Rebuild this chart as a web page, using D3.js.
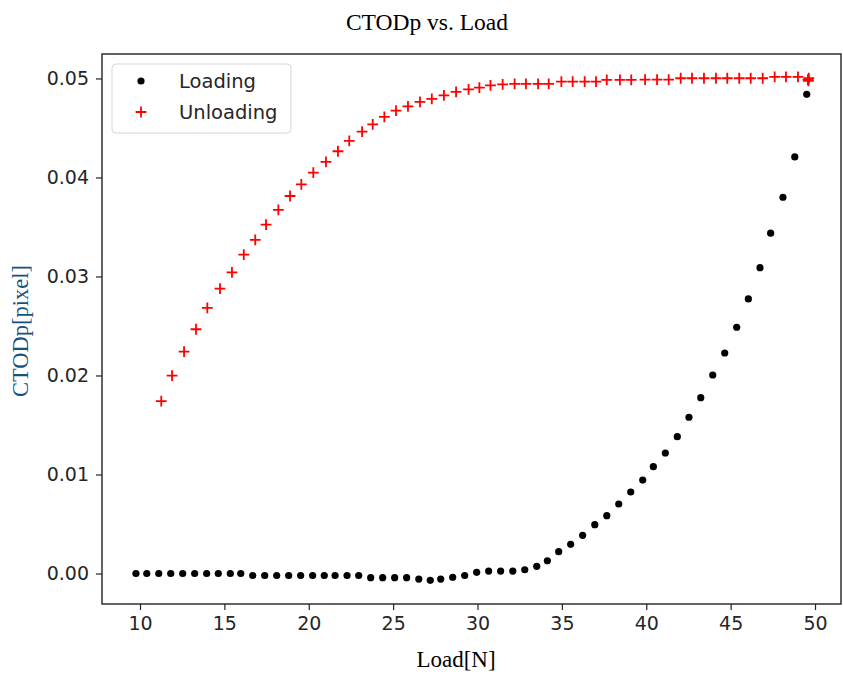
<!DOCTYPE html>
<html>
<head>
<meta charset="utf-8">
<script src="https://cdn.jsdelivr.net/npm/d3@7/dist/d3.min.js"></script>
<style>
  html, body { margin: 0; padding: 0; background: #fff; }
  svg { display: block; }
</style>
</head>
<body>
<svg id="chart" width="843" height="675"></svg>
<script>
// ---- Data ----
const loadingLoad = [9.76,10.40,11.11,11.82,12.53,13.24,13.95,14.64,15.35,15.97,
  16.68,17.39,18.10,18.81,19.52,20.23,20.92,21.56,22.27,22.96,
  23.67,24.38,25.09,25.80,26.52,27.20,27.82,28.53,29.24,29.95,
  30.66,31.37,32.09,32.80,33.51,34.14,34.81,35.52,36.23,36.95,
  37.66,38.37,39.08,39.79,40.42,41.13,41.84,42.53,43.23,43.94,
  44.65,45.36,46.05,46.74,47.37,48.10,48.80,49.51];
const loadingCTOD = [0.0000,0.0000,0.0000,0.0000,0.0000,0.0000,0.0000,0.0000,0.0000,0.0000,
  -0.0002,-0.0002,-0.0002,-0.0002,-0.0002,-0.0002,-0.0002,-0.0002,-0.0002,-0.0002,
  -0.00042,-0.00042,-0.00042,-0.00042,-0.00056,-0.00069,-0.00056,-0.00038,-0.0002,0.00012,
  0.00025,0.00025,0.00025,0.00038,0.00073,0.00129,0.0022,0.00295,0.00386,0.00493,
  0.00584,0.00702,0.00823,0.00944,0.01079,0.01217,0.01382,0.01578,0.01776,0.02005,
  0.02227,0.02487,0.02773,0.03089,0.03437,0.0380,0.04207,0.0484];

const unloadingLoad = [11.26,11.90,12.61,13.32,13.99,14.74,15.45,16.15,16.83,17.47,
  18.20,18.89,19.56,20.27,21.02,21.73,22.40,23.16,23.79,24.48,
  25.17,25.88,26.59,27.29,28.01,28.73,29.47,30.11,30.77,31.49,
  32.20,32.87,33.59,34.22,34.97,35.64,36.35,37.02,37.66,38.44,
  39.11,39.93,40.64,41.33,42.04,42.71,43.42,44.13,44.80,45.51,
  46.19,46.90,47.61,48.28,48.99,49.63,49.58,49.61];
const unloadingCTOD = [0.01742,0.01998,0.02240,0.02467,0.02682,0.02877,0.03042,0.03220,0.03369,0.03523,
  0.03672,0.03813,0.03931,0.04048,0.04157,0.04265,0.04369,0.04463,0.04537,0.04611,
  0.04675,0.04719,0.04763,0.04793,0.04830,0.04864,0.04889,0.04907,0.04931,0.04941,
  0.04945,0.04945,0.04945,0.04945,0.04968,0.04968,0.04968,0.04968,0.04985,0.04985,
  0.04985,0.04988,0.04988,0.04988,0.05002,0.05002,0.05002,0.05002,0.05002,0.05002,
  0.05002,0.05002,0.05015,0.05015,0.05015,0.05002,0.04988,0.04975];

const xTicks = [10, 15, 20, 25, 30, 35, 40, 45, 50];
const yTicks = [0.00, 0.01, 0.02, 0.03, 0.04, 0.05];
const seriesNames = ["Loading", "Unloading"];
const titleText = "CTODp vs. Load";
const xLabel = "Load[N]";
const yLabel = "CTODp[pixel]";

// ---- Layout ----
const svg = d3.select("#chart");
const plot = { left: 102, right: 841, top: 54, bottom: 604 };

const x = d3.scaleLinear().domain([7.748, 51.54]).range([plot.left, plot.right]);
const y = d3.scaleLinear().domain([-0.00308, 0.05247]).range([plot.bottom, plot.top]);

const tickFont = "'DejaVu Sans', sans-serif";
const serif = "'Liberation Serif', 'Times New Roman', serif";

// Title
svg.append("text")
  .attr("x", 427).attr("y", 30)
  .attr("text-anchor", "middle")
  .attr("font-family", serif).attr("font-size", 23.5)
  .attr("fill", "#000")
  .text(titleText);

// Axes
const xAxis = d3.axisBottom(x).tickValues(xTicks).tickFormat(d3.format("d"))
  .tickSize(6).tickSizeOuter(0).tickPadding(7);
const yAxis = d3.axisLeft(y).tickValues(yTicks).tickFormat(d3.format(".2f"))
  .tickSize(6).tickSizeOuter(0).tickPadding(7);

const gx = svg.append("g").attr("transform", `translate(0,${plot.bottom})`).call(xAxis);
const gy = svg.append("g").attr("transform", `translate(${plot.left},0)`).call(yAxis);
[gx, gy].forEach(g => {
  g.select(".domain").remove();
  g.selectAll(".tick line").attr("stroke", "#222").attr("stroke-width", 1.2);
  g.selectAll(".tick text").attr("font-family", tickFont).attr("font-size", 19)
    .attr("fill", "#262626");
});

// Frame
svg.append("rect")
  .attr("x", plot.left).attr("y", plot.top)
  .attr("width", plot.right - plot.left).attr("height", plot.bottom - plot.top)
  .attr("fill", "none").attr("stroke", "#222").attr("stroke-width", 1.4);

// Axis labels
svg.append("text")
  .attr("x", 456).attr("y", 667)
  .attr("text-anchor", "middle")
  .attr("font-family", serif).attr("font-size", 23)
  .attr("fill", "#000")
  .text(xLabel);

svg.append("text")
  .attr("transform", "translate(28,331) rotate(-90)")
  .attr("text-anchor", "middle")
  .attr("font-family", serif).attr("font-size", 22.5)
  .attr("fill", "#17527f")
  .text(yLabel);

// Marks
const crossPath = (cx, cy, h) => `M${cx - h},${cy}H${cx + h}M${cx},${cy - h}V${cy + h}`;

const gData = svg.append("g");
gData.selectAll("circle.loading")
  .data(loadingLoad.map((v, i) => [v, loadingCTOD[i]]))
  .join("circle")
  .attr("class", "loading")
  .attr("cx", d => x(d[0])).attr("cy", d => y(d[1]))
  .attr("r", 3.6).attr("fill", "#000");

gData.selectAll("path.unloading")
  .data(unloadingLoad.map((v, i) => [v, unloadingCTOD[i]]))
  .join("path")
  .attr("class", "unloading")
  .attr("d", d => crossPath(x(d[0]), y(d[1]), 5.4))
  .attr("stroke", "#ff0000").attr("stroke-width", 1.8).attr("fill", "none");

// Legend
const lg = svg.append("g");
lg.append("rect")
  .attr("x", 112).attr("y", 64).attr("width", 179).attr("height", 69).attr("rx", 4)
  .attr("fill", "#fff").attr("fill-opacity", 0.8)
  .attr("stroke", "#d5d5d5").attr("stroke-width", 1);
lg.append("circle").attr("cx", 141).attr("cy", 81).attr("r", 3.6).attr("fill", "#000");
lg.append("path").attr("d", crossPath(141, 112, 5.4))
  .attr("stroke", "#ff0000").attr("stroke-width", 1.8);
lg.selectAll("text.leg").data(seriesNames).join("text")
  .attr("class", "leg")
  .attr("x", 179).attr("y", (d, i) => 88 + i * 31)
  .attr("font-family", tickFont).attr("font-size", 19.5)
  .attr("fill", "#262626")
  .text(d => d);
</script>
</body>
</html>
